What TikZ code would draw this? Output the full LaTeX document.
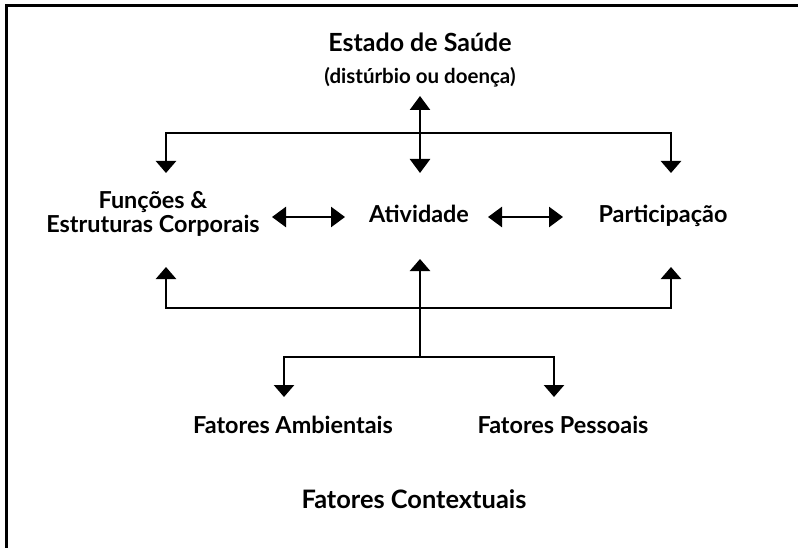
\documentclass[tikz,border=0pt]{standalone}
\usepackage{fontspec}
\setmainfont{Lato}
\usetikzlibrary{arrows.meta}
\begin{document}
\begin{tikzpicture}[x=1pt,y=-1pt,
  lbl/.style={font=\bfseries\fontsize{23.4}{24}\selectfont, inner sep=0pt, align=center, anchor=base},
  toplbl/.style={font=\bfseries\fontsize{25}{28}\selectfont, inner sep=0pt, anchor=base},
  sublbl/.style={font=\bfseries\fontsize{20.5}{22}\selectfont, inner sep=0pt, anchor=base},
  biglbl/.style={font=\bfseries\fontsize{25.4}{28}\selectfont, inner sep=0pt, anchor=base},
  ln/.style={line width=2.6pt, line join=miter},
  tip/.tip={Triangle[width=20pt,length=12pt]},
  arr/.style={ln, -tip},
  dbl/.style={ln, {Triangle[width=20pt,length=14pt]}-{Triangle[width=20pt,length=14pt]}}]
\useasboundingbox (0,0) rectangle (798,548);
\coordinate (fbl) at (6,548);
\coordinate (ftl) at (6,6);
\coordinate (ftr) at (798,6);
\draw[line width=3pt, line join=miter] (fbl) -- (ftl) -- (ftr);
% labels
\node[toplbl] (estado) at (420,52) {Estado de Saúde};
\node[sublbl] (sub) at (420,84) {(distúrbio ou doença)};
\node[lbl] (funcoes) at (153,233) {Funções \&\\Estruturas Corporais};
\node[lbl] (ativ) at (419,223) {Atividade};
\node[lbl] (part) at (663,223) {Participação};
\node[lbl] (amb) at (293,433) {Fatores Ambientais};
\node[lbl] (pess) at (563,433) {Fatores Pessoais};
\node[biglbl] (ctx) at (414,508) {Fatores Contextuais};
% top connectors
\coordinate (t0) at (420,96);
\coordinate (jt) at (420,133);
\coordinate (f1) at (166,173);
\coordinate (f2) at (420,173);
\coordinate (f3) at (671,173);
\draw[dbl] (t0) -- (f2);
\draw[arr] (jt) -| (f1);
\draw[arr] (jt) -| (f3);
% horizontal double arrows
\coordinate (h1a) at (272,217);
\coordinate (h1b) at (345,217);
\coordinate (h2a) at (488,217);
\coordinate (h2b) at (563,217);
\draw[dbl] (h1a) -- (h1b);
\draw[dbl] (h2a) -- (h2b);
% bottom connectors
\coordinate (jb) at (420,308);
\coordinate (u1) at (166,267);
\coordinate (u2) at (420,259);
\coordinate (u3) at (671,267);
\coordinate (jl) at (420,357);
\coordinate (d1) at (284,397);
\coordinate (d2) at (554,397);
\draw[arr] (jb) -| (u1);
\draw[arr] (jb) -| (u3);
\draw[arr] (jl) -- (u2);
\draw[arr] (jl) -| (d1);
\draw[arr] (jl) -| (d2);
\end{tikzpicture}
\end{document}
